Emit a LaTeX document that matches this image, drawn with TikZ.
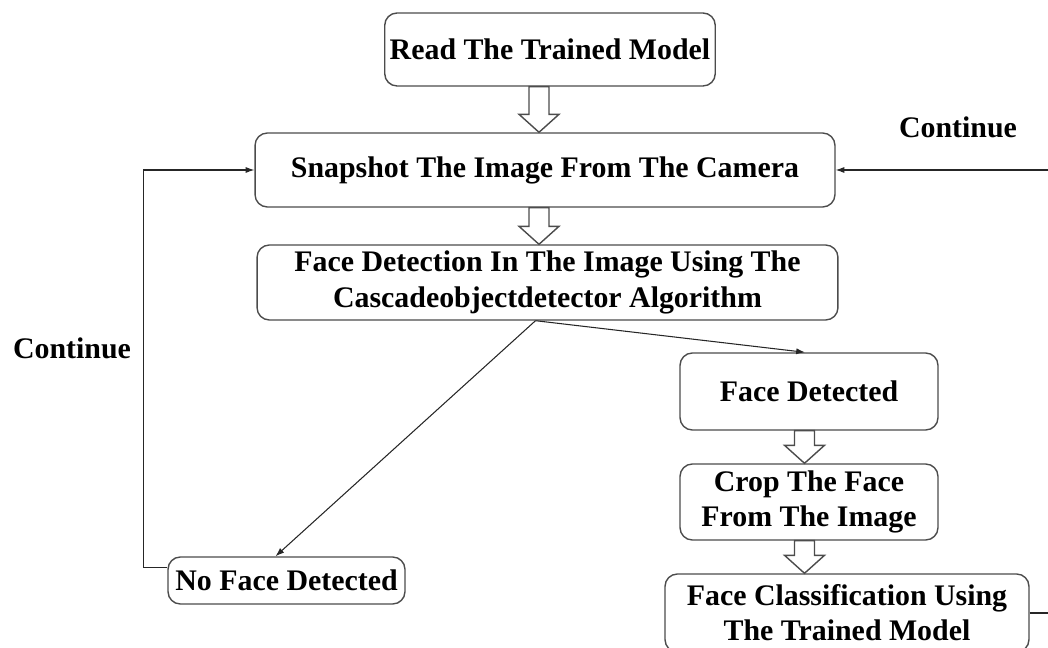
\documentclass[tikz,border=0pt]{standalone}
\usepackage{fontspec}
\setmainfont{Liberation Serif}
\usepackage{tikz}
\usetikzlibrary{arrows.meta}
\usetikzlibrary{calc}
\tikzstyle{box}=[rectangle,rounded corners=7pt,draw=black!70,line width=0.8pt,fill=white,align=center,inner sep=1mm,font=\fontsize{17}{20}\selectfont\bfseries]
\tikzstyle{label}=[font=\fontsize{17}{20}\selectfont\bfseries]
\tikzstyle{arrow}=[-{Latex[length=5pt,width=3.5pt]},draw=black!85,line width=0.6pt]
\tikzstyle{hollow}=[draw=black!70,line width=0.8pt,fill=white]
\tikzset{every picture/.style={
    x=0.02cm, y=-0.02cm
  }
}
% hollow block arrow: from node, to node, centre x
\newcommand{\hollowarrow}[3]{%
  \draw[hollow] (#3-10,0 |- #1.south) -- (#3+10,0 |- #1.south)
    -- ($(#3+10,0 |- #2.north)+(0,-18)$) -- ($(#3+20,0 |- #2.north)+(0,-18)$)
    -- (#3,0 |- #2.north)
    -- ($(#3-20,0 |- #2.north)+(0,-18)$) -- ($(#3-10,0 |- #2.north)+(0,-18)$) -- cycle;}

\begin{document}
\begin{tikzpicture}
      \useasboundingbox (0,0) rectangle (1048,648);
      \clip (0,0) rectangle (1048,648);
      \node[box, minimum width=6.6cm, minimum height=1.46cm] at (550,49.5) (read) {Read The Trained Model};
      \node[box, minimum width=11.6cm, minimum height=1.48cm] at (545,170) (snap) {Snapshot The Image From The Camera};
      \node[box, minimum width=11.62cm, minimum height=1.5cm] at (547.5,282.5) (detect) {Face Detection In The Image Using The\\Cascadeobjectdetector Algorithm};
      \node[box, minimum width=5.16cm, minimum height=1.54cm] at (809,391.5) (face) {Face Detected};
      \node[box, minimum width=5.16cm, minimum height=1.52cm] at (809,502) (crop) {Crop The Face\\From The Image};
      \node[box, minimum width=7.28cm, minimum height=1.56cm] at (847,613) (classif) {Face Classification Using\\The Trained Model};
      \node[box, minimum width=4.74cm, minimum height=0.94cm] at (286.5,580.5) (noface) {No Face Detected};
      \node[label] at (72,348) (contleft) {Continue};
      \node[label] at (958,127) (contright) {Continue};
      \hollowarrow{read}{snap}{539}
      \hollowarrow{snap}{detect}{539}
      \hollowarrow{face}{crop}{804.5}
      \hollowarrow{crop}{classif}{804.5}
      \draw[arrow] ($(detect.south)+(-12,0)$) -- ($(face.north)+(-4,0)$);
      \draw[arrow] ($(detect.south)+(-12,0)$) -- ($(noface.north)+(-11,0)$);
      \draw[arrow] ([yshift=0.26cm]noface.west) -- ++(-24,0) |- (snap.west);
      \draw[arrow] (classif.east) -- ++(26,0) |- (snap.east);
    \end{tikzpicture}
\end{document}
